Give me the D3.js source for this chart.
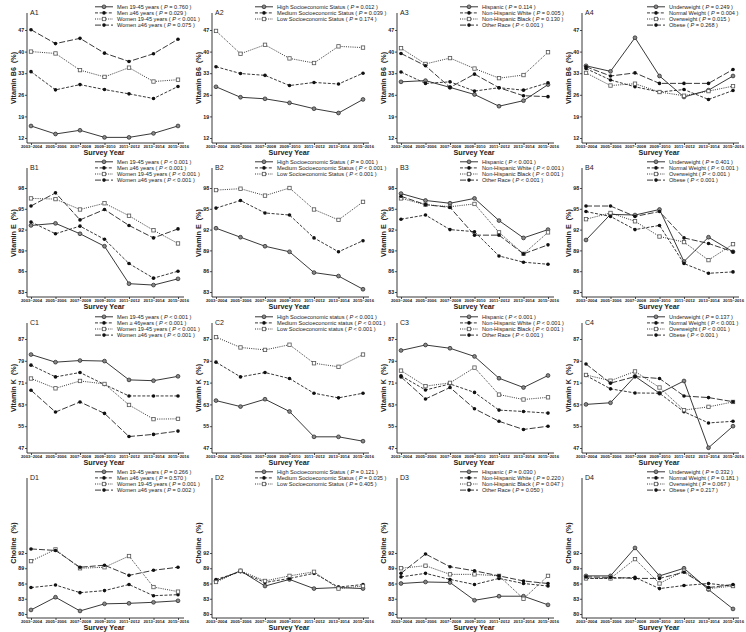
<!DOCTYPE html>
<html><head><meta charset="utf-8">
<script src="https://cdn.jsdelivr.net/npm/d3@7"></script>
<style>body{margin:0;background:#fff} svg{display:block} text{font-family:"Liberation Sans",Arial,sans-serif;fill:#222}</style>
</head><body><svg id="c" width="746" height="632"></svg>
<script>
const years = ["2003–2004","2005–2006","2007–2008","2009–2010","2011–2012","2013–2014","2015–2016"];

const ticksB6 = [12,19,26,33,40,47];
const ticksE  = [83,86,89,92,95,98];
const ticksK  = [47,55,63,71,79,87];
const ticksCh = [80,83,86,89,92];

const namesSex = ["Men 19-45 years","Men ≥46 years","Women 19-45 years","Women ≥46 years"];
const namesSexC = ["Men 19-45 years","Men ≥ 46years","Women 19-45 years","Women ≥46 years"];
const namesSES = ["High Socioeconomic Status","Medium Socioeconomic Status","Low Socioeconomic Status"];
const namesSESC = ["High Socioeconomic status","Medium Socioeconomic status","Low Socioeconomic status"];
const namesRace = ["Hispanic","Non-Hispanic White","Non-Hispanic Black","Other Race"];
const namesBMI = ["Underweight","Normal Weight","Overweight","Obese"];

// Vitamin B6
const A1 = [[15.9,13.3,14.5,12.2,12.2,13.5,15.9],[33.5,27.6,29.3,27.7,26.3,24.8,28.7],[40.0,39.4,34.0,31.8,34.8,30.3,30.9],[47.1,42.6,44.3,39.5,36.8,39.3,44.0]];
const A1p = ["= 0.760","= 0.029","< 0.001","= 0.075"];
const A2 = [[28.6,25.2,24.7,23.4,21.5,20.1,24.5],[35.1,32.9,32.3,29.0,30.0,29.5,33.0],[46.7,39.3,42.2,37.8,36.3,41.7,41.3]];
const A2p = ["= 0.012","= 0.039","= 0.174"];
const A3 = [[30.2,30.6,28.4,26.1,22.3,24.1,29.3],[33.4,29.7,30.2,27.2,28.3,27.5,29.9],[41.1,36.0,37.9,34.5,31.4,32.4,39.8],[39.4,35.4,28.4,32.7,28.3,25.7,25.4]];
const A3p = ["= 0.114","= 0.005","= 0.130","< 0.001"];
const A4 = [[35.4,33.6,44.5,32.1,25.3,27.5,32.1],[34.5,30.8,28.6,26.9,27.7,24.5,27.4],[33.1,29.0,29.6,26.9,25.7,27.2,28.8],[35.1,32.1,33.1,29.7,29.7,29.7,34.2]];
const A4p = ["= 0.249","= 0.004","= 0.015","= 0.268"];

// Vitamin E
const B1 = [[92.6,92.9,91.4,89.6,84.2,84.0,84.9],[93.1,91.4,92.5,90.6,87.1,85.0,86.0],[96.5,96.4,94.9,95.8,94.0,91.9,90.0],[95.4,97.3,93.4,94.9,92.6,90.8,92.1]];
const B1p = ["< 0.001","< 0.001","< 0.001","< 0.001"];
const B2 = [[92.2,90.9,89.6,88.8,85.8,85.3,83.4],[95.1,96.2,94.4,94.1,90.8,88.8,90.4],[97.7,97.9,96.9,98.0,94.9,93.4,96.0]];
const B2p = ["= 0.001","< 0.001","< 0.001"];
const B3 = [[97.2,96.2,95.8,96.5,93.3,90.8,92.0],[93.5,94.1,92.0,91.7,88.2,87.3,87.0],[96.5,95.6,95.3,95.7,91.6,88.5,91.6],[96.8,95.6,95.2,91.2,91.2,88.5,89.8]];
const B3p = ["< 0.001","< 0.001","< 0.001","< 0.001"];
const B4 = [[90.5,94.2,94.1,94.9,87.4,90.9,88.8],[94.6,93.9,92.0,92.6,87.1,85.7,85.9],[93.5,94.4,93.2,91.0,90.2,87.6,89.9],[95.4,95.4,93.9,94.6,90.8,90.0,88.8]];
const B4p = ["= 0.401","< 0.001","< 0.001","< 0.001"];

// Vitamin K
const C1 = [[81.3,78.5,79.1,78.9,72.0,71.7,73.3],[77.4,73.1,74.7,70.3,66.1,66.1,66.1],[72.5,68.9,71.6,70.5,62.8,57.6,57.7],[68.2,60.2,63.9,59.7,51.2,52.0,53.2]];
const C1p = ["< 0.001","< 0.001","< 0.001","< 0.001"];
const C2 = [[64.4,62.2,64.9,60.4,51.1,51.1,49.5],[78.5,73.1,74.7,72.5,67.1,65.4,67.1],[87.7,83.9,83.0,84.9,78.1,76.8,81.3]];
const C2p = ["< 0.001","< 0.001","< 0.001"];
const C3 = [[82.8,84.8,83.6,80.6,72.6,69.2,73.6],[73.5,68.3,70.5,67.4,60.9,60.4,59.8],[75.4,69.7,70.9,76.5,66.6,64.8,65.6],[73.1,65.0,69.2,61.4,56.8,53.8,55.0]];
const C3p = ["< 0.001","< 0.001","< 0.001","< 0.001"];
const C4 = [[63.0,63.6,73.3,67.1,71.6,47.1,55.0],[73.6,68.7,67.2,67.1,60.3,56.2,56.8],[73.8,71.7,75.1,69.2,60.9,62.1,63.9],[77.8,70.8,73.2,72.5,66.1,65.5,64.0]];
const C4p = ["= 0.137","< 0.001","< 0.001","< 0.001"];

// Choline
const D1 = [[80.8,83.3,80.6,82.0,82.1,82.3,82.6],[85.2,85.7,84.2,84.6,85.8,83.6,83.8],[90.4,92.7,89.0,89.2,91.4,85.3,84.4],[92.8,92.5,89.2,89.6,87.6,88.6,89.2]];
const D1p = ["= 0.266","= 0.570","= 0.001","= 0.002"];
const D2 = [[86.5,88.5,85.5,86.8,85.0,85.2,85.0],[86.8,88.3,86.2,87.0,88.0,85.3,85.8],[86.3,88.5,86.5,87.5,88.3,85.0,85.5]];
const D2p = ["= 0.121","= 0.035","= 0.405"];
const D3 = [[86.0,86.3,86.2,82.7,83.5,83.5,81.8],[87.3,88.0,86.8,85.8,87.0,86.0,85.5],[89.0,89.5,87.8,87.8,87.5,83.0,87.5],[88.0,91.8,89.3,88.5,87.5,86.5,86.0]];
const D3p = ["= 0.030","= 0.220","= 0.047","= 0.050"];
const D4 = [[87.5,87.5,93.0,87.5,89.0,84.8,81.0],[87.0,87.0,87.2,85.0,85.6,86.0,85.5],[87.0,87.0,90.8,86.0,88.5,85.0,85.5],[87.3,87.2,87.0,87.0,88.2,85.2,85.8]];
const D4p = ["= 0.332","= 0.181","= 0.067","= 0.217"];

const rows = [
  {top:0,   axis:143, ticks:ticksB6, title:"Vitamin B6", yb:138, yt:30, letter:"A", data:[A1,A2,A3,A4], ps:[A1p,A2p,A3p,A4p], names:[namesSex,namesSES,namesRace,namesBMI]},
  {top:155, axis:142, ticks:ticksE,  title:"Vitamin E",  yb:137, yt:33, letter:"B", data:[B1,B2,B3,B4], ps:[B1p,B2p,B3p,B4p], names:[namesSex,namesSES,namesRace,namesBMI]},
  {top:310, axis:143, ticks:ticksK,  title:"Vitamin K",  yb:138, yt:29, letter:"C", data:[C1,C2,C3,C4], ps:[C1p,C2p,C3p,C4p], names:[namesSexC,namesSESC,namesRace,namesBMI]},
  {top:465, axis:153, ticks:ticksCh, title:"Choline",    yb:149, yt:88, letter:"D", data:[D1,D2,D3,D4], ps:[D1p,D2p,D3p,D4p], names:[namesSex,namesSES,namesRace,namesBMI]}
];
const legendDx = [68, 43, 63, 65];

const styles = [
  {dash:null, marker:"circ"},
  {dash:"3,1.6", marker:"dot"},
  {dash:"1,1.2", marker:"sq"},
  {dash:"6,2", marker:"dot"}
];

const svg = d3.select("#c");

function marker(g, type, cx, cy){
  if(type==="circ") g.append("circle").attr("cx",cx).attr("cy",cy).attr("r",1.9).attr("fill","#888").attr("stroke","#222").attr("stroke-width",0.7);
  else if(type==="dot") g.append("circle").attr("cx",cx).attr("cy",cy).attr("r",1.8).attr("fill","#111");
  else g.append("rect").attr("x",cx-1.7).attr("y",cy-1.7).attr("width",3.4).attr("height",3.4).attr("fill","#fff").attr("stroke","#555").attr("stroke-width",0.8);
}

rows.forEach((row, r) => {
  for(let c=0;c<4;c++){
    const ax = 27 + 185*c;
    const axisY = row.top + row.axis;
    const g = svg.append("g");
    const x = d3.scalePoint().domain(years).range([ax+4, ax+151]);
    const y = d3.scaleLinear().domain([row.ticks[0], row.ticks[row.ticks.length-1]]).range([row.top+row.yb, row.top+row.yt]);

    g.append("line").attr("x1",ax).attr("x2",ax).attr("y1",row.top+13).attr("y2",axisY).attr("stroke","#222").attr("stroke-width",0.9);
    g.append("line").attr("x1",ax).attr("x2",ax+157).attr("y1",axisY).attr("y2",axisY).attr("stroke","#222").attr("stroke-width",0.9);

    const ya = g.append("g").attr("transform",`translate(${ax},0)`).call(d3.axisLeft(y).tickValues(row.ticks).tickSize(2).tickPadding(0.8));
    ya.select(".domain").remove();
    ya.selectAll("line").attr("stroke","#222").attr("stroke-width",0.8);
    ya.selectAll("text").style("font-size","5.3px").style("font-weight","bold").attr("fill","#222");

    const xa = g.append("g").attr("transform",`translate(0,${axisY})`).call(d3.axisBottom(x).tickSize(2).tickPadding(0.3));
    xa.select(".domain").remove();
    xa.selectAll("line").attr("stroke","#222").attr("stroke-width",0.8);
    xa.selectAll("text").style("font-size","4.2px").style("font-weight","bold").attr("fill","#222");

    g.append("text").attr("x",ax+77).attr("y",axisY+12.3).attr("text-anchor","middle")
      .style("font-size","7.2px").style("font-weight","bold").text("Survey Year");
    g.append("text").attr("transform",`translate(${ax-11},${row.top+78}) rotate(-90)`).attr("text-anchor","middle")
      .style("font-size","7.2px").style("font-weight","bold").text(row.title+"\u00a0\u00a0(%)");
    g.append("text").attr("x",ax+3).attr("y",row.top+15).style("font-size","7px").text(row.letter+(c+1));

    const data = row.data[c];
    const line = d3.line().x((d,i)=>x(years[i])).y(d=>y(d));
    data.forEach((vals, s) => {
      const st = styles[s];
      g.append("path").attr("d",line(vals)).attr("fill","none").attr("stroke","#222").attr("stroke-width",0.9)
        .attr("stroke-dasharray",st.dash);
      vals.forEach((v,i)=>marker(g, st.marker, x(years[i]), y(v)));
    });

    const names = row.names[c];
    data.forEach((vals, s) => {
      const st = styles[s];
      const ly = row.top + 6.8 + s*6.1;
      const lx = ax + legendDx[c];
      g.append("line").attr("x1",lx).attr("x2",lx+18).attr("y1",ly).attr("y2",ly).attr("stroke","#222").attr("stroke-width",0.9).attr("stroke-dasharray",st.dash);
      marker(g, st.marker, lx+9, ly);
      const t = g.append("text").attr("x",lx+22).attr("y",ly+2).style("font-size","5.6px");
      t.append("tspan").text(names[s]+" ( ");
      t.append("tspan").style("font-style","italic").text("P");
      t.append("tspan").text(" "+row.ps[c][s]+" )");
    });
  }
});
</script></body></html>
